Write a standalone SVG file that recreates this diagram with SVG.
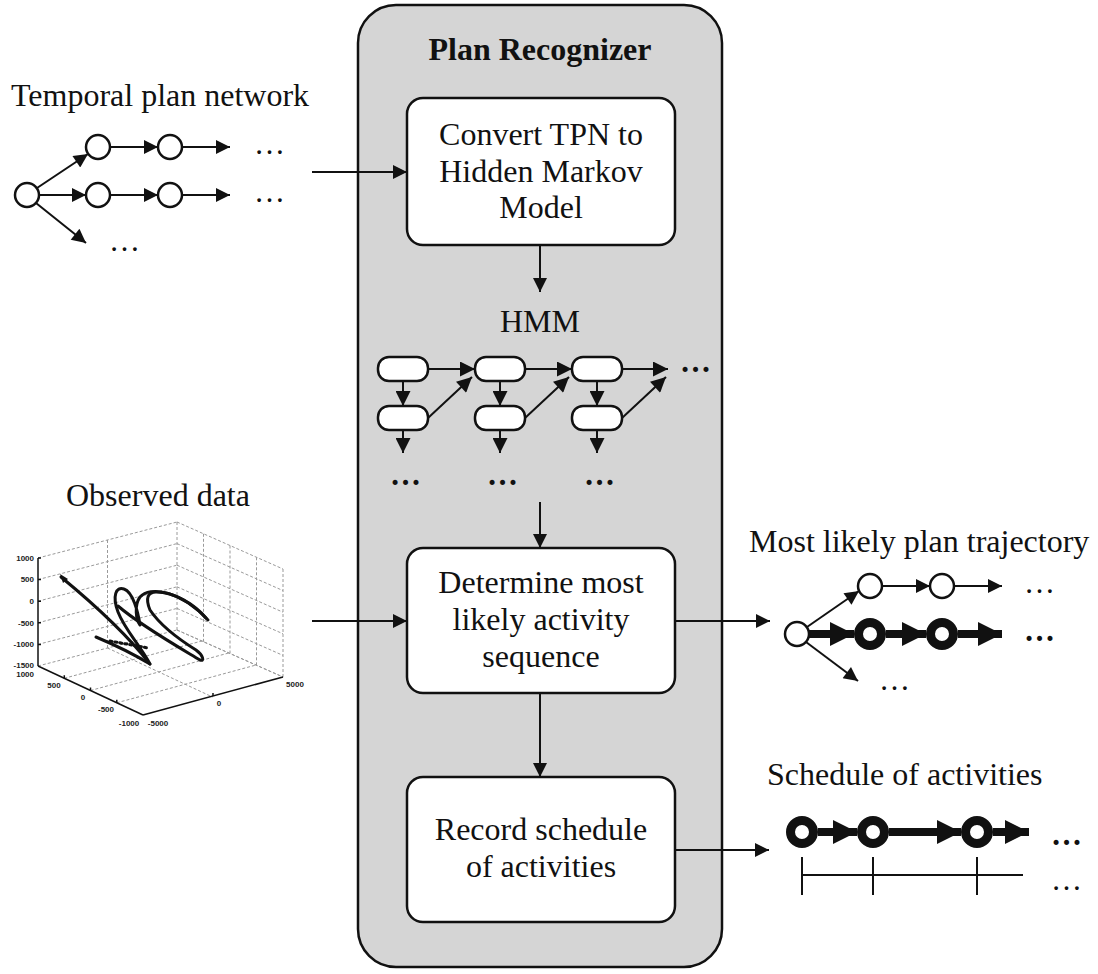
<svg xmlns="http://www.w3.org/2000/svg" width="1098" height="974" viewBox="0 0 1098 974">
<style>
text{font-family:"Liberation Serif","Times New Roman",serif;fill:#111}
.lbl{font-size:32px}
.ctr{text-anchor:middle}
.dots{font-size:31px}
.bdots{font-size:31px;font-weight:bold}
.box{fill:#fff;stroke:#111;stroke-width:2.5}
.ln{stroke:#111;stroke-width:2;fill:none}
.thk{stroke:#111;stroke-width:8;fill:none}
.circ{fill:#fff;stroke:#111;stroke-width:2.5}
.bcirc{fill:#fff;stroke:#111;stroke-width:9}
.hmm{fill:#fff;stroke:#111;stroke-width:2.5}
.grid{stroke:#9a9a9a;stroke-width:1;stroke-dasharray:3,2;fill:none}
.axis{stroke:#111;stroke-width:1.5;fill:none}
.tick{font-family:"Liberation Sans",Arial,sans-serif;font-size:8px;font-weight:bold;fill:#222}
.curve{stroke:#111;stroke-width:3;fill:none;stroke-linecap:round;stroke-linejoin:round}
</style>
<defs>
<marker id="ah" viewBox="0 0 10 10" refX="10" refY="5" markerWidth="16" markerHeight="14" markerUnits="userSpaceOnUse" orient="auto"><path d="M0,0 L10,5 L0,10 z" fill="#111"/></marker>
<marker id="ahm" viewBox="0 0 10 10" refX="10" refY="5" markerWidth="16" markerHeight="15" markerUnits="userSpaceOnUse" orient="auto"><path d="M0,0 L10,5 L0,10 z" fill="#111"/></marker>
<marker id="ahb" viewBox="0 0 10 10" refX="10" refY="5" markerWidth="25" markerHeight="24" markerUnits="userSpaceOnUse" orient="auto"><path d="M0,0 L10,5 L0,10 z" fill="#111"/></marker>
</defs>
<rect width="1098" height="974" fill="#fff"/>

<g id="plan-recognizer">
<rect x="358" y="5" width="364" height="962" rx="38" fill="#d5d5d5" stroke="#111" stroke-width="2.5"/>
<text x="540" y="60" class="lbl ctr" font-weight="bold">Plan Recognizer</text>
</g>

<g id="convert">
<rect x="407" y="98" width="268" height="147" rx="16" class="box"/>
<text x="541" y="145" class="lbl ctr">Convert TPN to</text>
<text x="541" y="182" class="lbl ctr">Hidden Markov</text>
<text x="541" y="218" class="lbl ctr">Model</text>
</g>

<g id="hmm">
<text x="540" y="332" class="lbl ctr">HMM</text>
<rect x="378" y="357" width="50" height="24" rx="11" class="hmm"/>
<rect x="378" y="406" width="50" height="24" rx="11" class="hmm"/>
<rect x="475" y="357" width="50" height="24" rx="11" class="hmm"/>
<rect x="475" y="406" width="50" height="24" rx="11" class="hmm"/>
<rect x="572" y="357" width="50" height="24" rx="11" class="hmm"/>
<rect x="572" y="406" width="50" height="24" rx="11" class="hmm"/>
<g class="ln" marker-end="url(#ahm)">
<line x1="403" y1="381" x2="403" y2="406"/>
<line x1="500" y1="381" x2="500" y2="406"/>
<line x1="597" y1="381" x2="597" y2="406"/>
<line x1="403" y1="430" x2="403" y2="453"/>
<line x1="500" y1="430" x2="500" y2="453"/>
<line x1="597" y1="430" x2="597" y2="453"/>
<line x1="428" y1="369" x2="475" y2="369"/>
<line x1="525" y1="369" x2="572" y2="369"/>
<line x1="622" y1="369" x2="668" y2="369"/>
<line x1="428" y1="418" x2="472" y2="377"/>
<line x1="525" y1="418" x2="569" y2="377"/>
<line x1="622" y1="418" x2="666" y2="377"/>
</g>
<text x="680" y="372" class="bdots">…</text>
<text x="390" y="485" class="bdots">…</text>
<text x="487" y="485" class="bdots">…</text>
<text x="584" y="485" class="bdots">…</text>
</g>

<g id="determine">
<rect x="407" y="548" width="268" height="145" rx="16" class="box"/>
<text x="541" y="593" class="lbl ctr">Determine most</text>
<text x="541" y="630" class="lbl ctr">likely activity</text>
<text x="541" y="667" class="lbl ctr">sequence</text>
</g>

<g id="record">
<rect x="407" y="777" width="268" height="145" rx="16" class="box"/>
<text x="541" y="840" class="lbl ctr">Record schedule</text>
<text x="541" y="877" class="lbl ctr">of activities</text>
</g>

<g id="tpn">
<text x="11" y="106" class="lbl">Temporal plan network</text>
<g class="ln" marker-end="url(#ah)">
<line x1="37" y1="188" x2="88" y2="154"/>
<line x1="39" y1="195" x2="86" y2="195"/>
<line x1="36" y1="203" x2="86" y2="243"/>
<line x1="110" y1="147" x2="158" y2="147"/>
<line x1="182" y1="147" x2="230" y2="147"/>
<line x1="110" y1="195" x2="158" y2="195"/>
<line x1="182" y1="195" x2="230" y2="195"/>
</g>
<circle cx="27" cy="195" r="12" class="circ"/>
<circle cx="98" cy="147" r="12" class="circ"/>
<circle cx="170" cy="147" r="12" class="circ"/>
<circle cx="98" cy="195" r="12" class="circ"/>
<circle cx="170" cy="195" r="12" class="circ"/>
<text x="254" y="154" class="dots">…</text>
<text x="254" y="202" class="dots">…</text>
<text x="109" y="251" class="dots">…</text>
</g>

<g id="observed-data">
<text x="66" y="506" class="lbl">Observed data</text>
<g class="grid">
<line x1="38" y1="558" x2="177" y2="522"/>
<line x1="38" y1="579.6" x2="177" y2="543.6"/>
<line x1="38" y1="601.2" x2="177" y2="565.2"/>
<line x1="38" y1="622.8" x2="177" y2="586.8"/>
<line x1="38" y1="644.4" x2="177" y2="608.4"/>
<line x1="107.5" y1="648" x2="107.5" y2="540"/>
<line x1="177" y1="630" x2="177" y2="522"/>
<line x1="177" y1="522" x2="283" y2="569"/>
<line x1="177" y1="543.6" x2="283" y2="590.6"/>
<line x1="177" y1="565.2" x2="283" y2="612.2"/>
<line x1="177" y1="586.8" x2="283" y2="633.8"/>
<line x1="177" y1="608.4" x2="283" y2="655.4"/>
<line x1="177" y1="630" x2="283" y2="677"/>
<line x1="203.5" y1="641.8" x2="203.5" y2="533.8"/>
<line x1="230" y1="653.5" x2="230" y2="545.5"/>
<line x1="256.5" y1="665.3" x2="256.5" y2="557.3"/>
<line x1="283" y1="677" x2="283" y2="569"/>
<line x1="38" y1="666" x2="177" y2="630"/>
<line x1="64.3" y1="678.3" x2="204.3" y2="640.3"/>
<line x1="90.5" y1="690.5" x2="230.5" y2="652.5"/>
<line x1="116.8" y1="702.8" x2="256.8" y2="664.8"/>
<line x1="107.5" y1="648" x2="212.5" y2="697"/>
<line x1="177" y1="630" x2="283" y2="677"/>
</g>
<g class="axis">
<line x1="38" y1="558" x2="38" y2="666"/>
<line x1="38" y1="666" x2="143" y2="715"/>
<line x1="143" y1="715" x2="283" y2="677"/>
<path d="M38,558 h3 M38,579.6 h3 M38,601.2 h3 M38,622.8 h3 M38,644.4 h3 M64.3,678.3 l0,-3 M90.5,690.5 l0,-3 M116.8,702.8 l0,-3 M213,696 l0,-3"/>
</g>
<text x="34" y="561" class="tick" text-anchor="end">1000</text>
<text x="34" y="582" class="tick" text-anchor="end">500</text>
<text x="34" y="604" class="tick" text-anchor="end">0</text>
<text x="34" y="626" class="tick" text-anchor="end">-500</text>
<text x="34" y="647" class="tick" text-anchor="end">-1000</text>
<text x="34" y="668" class="tick" text-anchor="end">-1500</text>
<text x="34" y="677" class="tick" text-anchor="end">1000</text>
<text x="54" y="688" class="tick" text-anchor="middle">500</text>
<text x="83" y="700" class="tick" text-anchor="middle">0</text>
<text x="106" y="712" class="tick" text-anchor="middle">-500</text>
<text x="129" y="726" class="tick" text-anchor="middle">-1000</text>
<text x="158" y="726" class="tick" text-anchor="middle">-5000</text>
<text x="219" y="706" class="tick" text-anchor="middle">0</text>
<text x="295" y="687" class="tick" text-anchor="middle">5000</text>
<path class="curve" d="M61,577 C95,605 125,632 150,664 C140,645 125,630 118,612 C112,596 116,586 124,589 C133,592 138,612 140,625 C136,620 134,605 140,597 C150,586 180,590 208,620"/>
<path class="curve" d="M118,606 C140,625 175,645 200,660 C205,662 203,655 196,650 C180,640 160,625 150,610 C145,598 148,592 156,592 C175,592 195,605 206,618"/>
<path class="curve" d="M96,637 C115,645 135,655 150,664"/>
<path class="curve" d="M110,641 L148,648" stroke-dasharray="2,3" stroke-width="2.5"/>
<path d="M60,574 L68,579 L63,583 z" fill="#111"/>
</g>

<g id="most-likely-trajectory">
<text x="749" y="552" class="lbl">Most likely plan trajectory</text>
<g class="ln" marker-end="url(#ah)">
<line x1="807" y1="627" x2="859" y2="591"/>
<line x1="806" y1="642" x2="858" y2="681"/>
<line x1="882" y1="586" x2="930" y2="586"/>
<line x1="954" y1="586" x2="1002" y2="586"/>
</g>
<g class="thk" marker-end="url(#ahb)">
<line x1="809" y1="634" x2="854" y2="634"/>
<line x1="886" y1="634" x2="926" y2="634"/>
<line x1="958" y1="634" x2="1002" y2="634"/>
</g>
<circle cx="797" cy="634" r="12" class="circ"/>
<circle cx="870" cy="586" r="12" class="circ"/>
<circle cx="942" cy="586" r="12" class="circ"/>
<circle cx="870" cy="634" r="11.5" class="bcirc"/>
<circle cx="942" cy="634" r="11.5" class="bcirc"/>
<text x="1024" y="593" class="dots">…</text>
<text x="1024" y="641" class="bdots">…</text>
<text x="879" y="690" class="dots">…</text>
</g>

<g id="schedule-of-activities">
<text x="767" y="785" class="lbl">Schedule of activities</text>
<g class="thk" marker-end="url(#ahb)">
<line x1="818" y1="832" x2="857" y2="832"/>
<line x1="889" y1="832" x2="961" y2="832"/>
<line x1="993" y1="832" x2="1029" y2="832"/>
</g>
<circle cx="802" cy="832" r="11.5" class="bcirc"/>
<circle cx="873" cy="832" r="11.5" class="bcirc"/>
<circle cx="977" cy="832" r="11.5" class="bcirc"/>
<g class="ln">
<line x1="802" y1="875" x2="1023" y2="875"/>
<line x1="802" y1="857" x2="802" y2="895"/>
<line x1="873" y1="857" x2="873" y2="895"/>
<line x1="977" y1="857" x2="977" y2="895"/>
</g>
<text x="1051" y="845" class="bdots">…</text>
<text x="1051" y="890" class="dots">…</text>
</g>

<g id="connectors" class="ln" marker-end="url(#ah)">
<line x1="312" y1="172" x2="407" y2="172"/>
<line x1="540" y1="245" x2="540" y2="292"/>
<line x1="540" y1="502" x2="540" y2="548"/>
<line x1="312" y1="621" x2="407" y2="621"/>
<line x1="675" y1="621" x2="770" y2="621"/>
<line x1="540" y1="693" x2="540" y2="777"/>
<line x1="675" y1="850" x2="769" y2="850"/>
</g>
</svg>
